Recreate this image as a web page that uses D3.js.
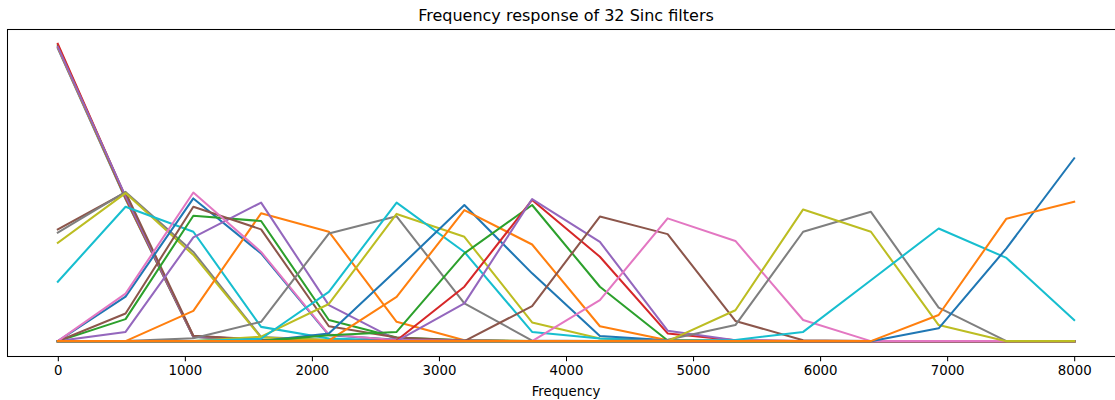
<!DOCTYPE html>
<html>
<head>
<meta charset="utf-8">
<script src="https://cdn.jsdelivr.net/npm/d3@7"></script>
<style>
  html, body { margin: 0; padding: 0; background: #fff; }
  svg { display: block; font-family: "DejaVu Sans", sans-serif; }
</style>
</head>
<body>
<svg id="chart" width="1115" height="400"></svg>
<script>
// ---- data ----
const title = "Frequency response of 32 Sinc filters";
const xLabel = "Frequency";
const freqs = [0, 533.3, 1066.7, 1600, 2133.3, 2666.7, 3200, 3733.3, 4266.7, 4800, 5333.3, 5866.7, 6400, 6933.3, 7466.7, 8000];
const xTicks = [0, 1000, 2000, 3000, 4000, 5000, 6000, 7000, 8000];
const colors = ["#1f77b4", "#ff7f0e", "#2ca02c", "#d62728", "#9467bd", "#8c564b", "#e377c2", "#7f7f7f", "#bcbd22", "#17becf"];

const f00 = [0.985, 0.478, 0.014, 0.003, 0.001, 0, 0, 0, 0, 0, 0, 0, 0, 0, 0, 0];
const f01 = [0.988, 0.480, 0.015, 0.003, 0.001, 0, 0, 0, 0, 0, 0, 0, 0, 0, 0, 0];
const f02 = [0.995, 0.483, 0.016, 0.003, 0.002, 0, 0, 0, 0, 0, 0, 0, 0, 0, 0, 0];
const f03 = [1.000, 0.484, 0.017, 0.004, 0.002, 0, 0, 0, 0, 0, 0, 0, 0, 0, 0, 0];
const f04 = [0.990, 0.487, 0.015, 0.004, 0.002, 0, 0, 0, 0, 0, 0, 0, 0, 0, 0, 0];
const f05 = [0.376, 0.500, 0.018, 0.005, 0.002, 0, 0, 0, 0, 0, 0, 0, 0, 0, 0, 0];
const f06 = [0, 0, 0, 0, 0, 0, 0, 0, 0, 0, 0, 0, 0, 0, 0, 0];
const f07 = [0.365, 0.502, 0.300, 0.014, 0.004, 0.001, 0, 0, 0, 0, 0, 0, 0, 0, 0, 0];
const f08 = [0.331, 0.498, 0.290, 0.012, 0.004, 0.001, 0, 0, 0, 0, 0, 0, 0, 0, 0, 0];
const f09 = [0.200, 0.452, 0.368, 0.048, 0.009, 0.002, 0, 0, 0, 0, 0, 0, 0, 0, 0, 0];
const f10 = [0, 0.150, 0.480, 0.295, 0.020, 0.005, 0.001, 0, 0, 0, 0, 0, 0, 0, 0, 0];
const f11 = [0, 0, 0.102, 0.430, 0.368, 0.065, 0.003, 0, 0, 0, 0, 0, 0, 0, 0, 0];
const f12 = [0, 0.074, 0.422, 0.404, 0.071, 0.012, 0.003, 0, 0, 0, 0, 0, 0, 0, 0, 0];
const f13 = [0, 0, 0, 0, 0, 0, 0, 0, 0, 0, 0, 0, 0, 0, 0, 0];
const f14 = [0, 0.031, 0.349, 0.466, 0.121, 0.004, 0.001, 0, 0, 0, 0, 0, 0, 0, 0, 0];
const f15 = [0, 0.093, 0.452, 0.376, 0.050, 0.012, 0.002, 0, 0, 0, 0, 0, 0, 0, 0, 0];
const f16 = [0, 0.160, 0.500, 0.300, 0.022, 0.003, 0.001, 0, 0, 0, 0, 0, 0, 0, 0, 0];
const f17 = [0, 0, 0.010, 0.065, 0.362, 0.420, 0.127, 0.002, 0, 0, 0, 0, 0, 0, 0, 0];
const f18 = [0, 0, 0, 0.015, 0.125, 0.428, 0.351, 0.063, 0.009, 0.002, 0, 0, 0, 0, 0, 0];
const f19 = [0, 0, 0, 0.008, 0.166, 0.466, 0.300, 0.031, 0.009, 0.002, 0, 0, 0, 0, 0, 0];
const f20 = [0, 0, 0, 0, 0.026, 0.239, 0.458, 0.228, 0.017, 0.003, 0, 0, 0, 0, 0, 0];
const f21 = [0, 0, 0, 0, 0.002, 0.149, 0.441, 0.325, 0.050, 0.003, 0, 0, 0, 0, 0, 0];
const f22 = [0, 0, 0, 0, 0.020, 0.031, 0.295, 0.458, 0.183, 0.002, 0, 0, 0, 0, 0, 0];
const f23 = [0, 0, 0, 0, 0, 0.002, 0.183, 0.475, 0.284, 0.026, 0.003, 0, 0, 0, 0, 0];
const f24 = [0, 0, 0, 0, 0, 0, 0.127, 0.478, 0.334, 0.035, 0.003, 0, 0, 0, 0, 0];
const f25 = [0, 0, 0, 0, 0, 0, 0, 0.118, 0.419, 0.360, 0.068, 0.003, 0, 0, 0, 0];
const f26 = [0, 0, 0, 0, 0, 0, 0, 0, 0.138, 0.413, 0.337, 0.071, 0, 0, 0, 0];
const f27 = [0, 0, 0, 0, 0, 0, 0, 0, 0, 0.005, 0.054, 0.368, 0.435, 0.113, 0, 0];
const f28 = [0, 0, 0, 0, 0, 0, 0, 0, 0, 0, 0.104, 0.443, 0.368, 0.054, 0, 0];
const f29 = [0, 0, 0, 0, 0, 0, 0, 0, 0, 0, 0.004, 0.031, 0.205, 0.379, 0.280, 0.071];
const f30 = [0, 0, 0, 0, 0, 0, 0, 0, 0, 0, 0, 0, 0, 0.043, 0.312, 0.615];
const f31 = [0, 0, 0, 0, 0, 0, 0, 0, 0, 0, 0, 0, 0, 0.088, 0.412, 0.469];

const filters = [f00, f01, f02, f03, f04, f05, f06, f07, f08, f09, f10, f11, f12, f13, f14, f15,
                 f16, f17, f18, f19, f20, f21, f22, f23, f24, f25, f26, f27, f28, f29, f30, f31];

// ---- layout ----
const svg = d3.select("#chart");
const axL = 7, axR = 1125, axT = 29, axB = 356;

const x = d3.scaleLinear().domain([-400, 8400]).range([axL, axR]);
const yMax = d3.max(filters, f => d3.max(f));
const yMin = 0;
const pad = (yMax - yMin) * 0.05;
const y = d3.scaleLinear().domain([yMin - pad, yMax + pad]).range([axB, axT]);

svg.append("defs").append("clipPath").attr("id", "clip")
  .append("rect").attr("x", axL).attr("y", axT).attr("width", axR - axL).attr("height", axB - axT);

const line = d3.line().x((d, i) => x(freqs[i])).y(d => y(d));

const g = svg.append("g").attr("clip-path", "url(#clip)");
filters.forEach((f, i) => {
  g.append("path")
    .datum(f)
    .attr("d", line)
    .attr("fill", "none")
    .attr("stroke", colors[i % colors.length])
    .attr("stroke-width", 2.05)
    .attr("stroke-linejoin", "round")
    .attr("stroke-linecap", "square");
});

// spines
svg.append("rect")
  .attr("x", axL + 0.5).attr("y", axT + 0.5)
  .attr("width", axR - axL).attr("height", axB - axT)
  .attr("fill", "none").attr("stroke", "#000").attr("stroke-width", 1.05);

// x axis
const xAxis = d3.axisBottom(x).tickValues(xTicks).tickFormat(d3.format("d"))
  .tickSize(4.7).tickPadding(4.5);
const gx = svg.append("g").attr("transform", `translate(0,${axB + 0.5})`).call(xAxis);
gx.select(".domain").remove();
gx.selectAll(".tick line").attr("stroke", "#000").attr("stroke-width", 1.05);
gx.selectAll(".tick text").attr("fill", "#000").style("font-size", "13.3px")
  .style("font-family", "DejaVu Sans, sans-serif");

// labels
svg.append("text")
  .attr("x", (axL + axR) / 2).attr("y", 396)
  .attr("text-anchor", "middle")
  .style("font-size", "13.3px").attr("fill", "#000")
  .text(xLabel);

svg.append("text")
  .attr("x", (axL + axR) / 2).attr("y", 21)
  .attr("text-anchor", "middle")
  .style("font-size", "16px").attr("fill", "#000")
  .text(title);
</script>
</body>
</html>
